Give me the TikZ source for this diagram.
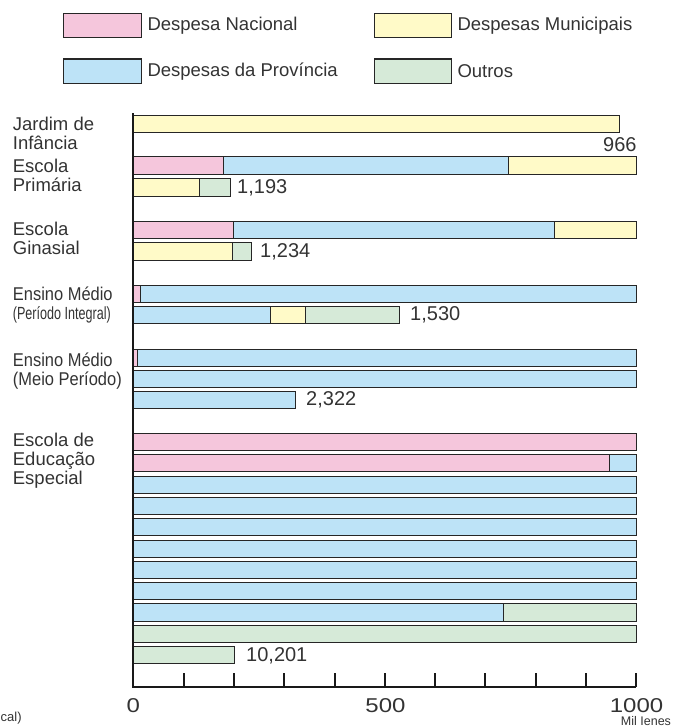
\documentclass[tikz,border=0pt]{standalone}
\usepackage{fontspec}
\setmainfont{Liberation Sans}
\usepackage{graphicx}
\definecolor{nacpink}{RGB}{245,198,220}
\definecolor{provblue}{RGB}{189,227,247}
\definecolor{munyellow}{RGB}{255,250,200}
\definecolor{outgreen}{RGB}{214,234,216}
\definecolor{ink}{RGB}{51,51,51}
\begin{document}
\begin{tikzpicture}[x=1pt,y=-1pt,
  seg/.style={draw=black!85,line width=0.9pt},
  nacseg/.style={seg,fill=nacpink},
  proseg/.style={seg,fill=provblue},
  munseg/.style={seg,fill=munyellow},
  othseg/.style={seg,fill=outgreen},
  key/.style={draw=black!85,line width=1.2pt},
  lab/.style={text=ink,inner sep=0pt,align=left,font=\fontsize{18.5}{19}\selectfont},
  num/.style={text=ink,inner sep=0pt,font=\fontsize{20}{20}\selectfont},
  axis/.style={draw=black!90,line width=2pt}]
\useasboundingbox (0,0) rectangle (679,728);

% legend
\path[key,fill=nacpink] (63.3,13.3) rectangle (141.7,37.5);
\path[key,fill=munyellow] (374.3,13.3) rectangle (451.7,37.5);
\path[key,fill=provblue] (63.3,59) rectangle (141.7,83.3);
\path[key,fill=outgreen] (374.3,59) rectangle (451.7,83.3);
\node[lab,anchor=west] (k1) at (147.3,25.3) {Despesa Nacional};
\node[lab,anchor=west] (k2) at (457.3,25.3) {Despesas Municipais};
\node[lab,anchor=west] (k3) at (147.3,71.3) {Despesas da Província};
\node[lab,anchor=west] (k4) at (457.3,71.3) {Outros};

% school names
\node[lab,anchor=west] (s1) at (12.7,133.4) {Jardim de\\Infância};
\node[lab,anchor=west] (s2) at (12.7,175) {Escola\\Primária};
\node[lab,anchor=west] (s3) at (12.7,238.5) {Escola\\Ginasial};
\node[lab,anchor=west] (s4) at (12.7,293.3) {\scalebox{0.89}[1]{Ensino Médio}};
\node[lab,anchor=west] (s4b) at (12.7,315) {\scalebox{0.68}[0.95]{(Período Integral)}};
\node[lab,anchor=west] (s5) at (12.7,370.7) {\scalebox{0.89}[1]{Ensino Médio}\\\scalebox{0.89}[1]{(Meio Período)}};
\node[lab,anchor=west] (s6) at (12.7,461) {Escola de\\Educação\\Especial};

\begin{scope}[xshift=133.3pt,x=0.503pt]
% Jardim de Infancia
\path[munseg] (0,115) rectangle (966,132.3);
% Escola Primaria
\path[nacseg] (0,156.7) rectangle (179,174);
\path[proseg] (179,156.7) rectangle (745,174);
\path[munseg] (745,156.7) rectangle (1000,174);
\path[munseg] (0,178.3) rectangle (131,196);
\path[othseg] (131,178.3) rectangle (193,196);
% Escola Ginasial
\path[nacseg] (0,221) rectangle (200,238.3);
\path[proseg] (200,221) rectangle (838,238.3);
\path[munseg] (838,221) rectangle (1000,238.3);
\path[munseg] (0,242.7) rectangle (197,260);
\path[othseg] (197,242.7) rectangle (234,260);
% Ensino Medio (integral)
\path[nacseg] (0,285) rectangle (14,302.3);
\path[proseg] (14,285) rectangle (1000,302.3);
\path[proseg] (0,306) rectangle (272,323.3);
\path[munseg] (272,306) rectangle (342,323.3);
\path[othseg] (342,306) rectangle (530,323.3);
% Ensino Medio (meio periodo)
\path[nacseg] (0,349) rectangle (9,366.3);
\path[proseg] (9,349) rectangle (1000,366.3);
\path[proseg] (0,370) rectangle (1000,387.3);
\path[proseg] (0,391) rectangle (322,408.3);
% Educacao Especial
\path[nacseg] (0,433.3) rectangle (1000,450.6);
\path[nacseg] (0,454.6) rectangle (946,471.9);
\path[proseg] (946,454.6) rectangle (1000,471.9);
\foreach \k in {2,...,7}
  \path[proseg] (0,{433.3+\k*21.33}) rectangle (1000,{450.6+\k*21.33});
\path[proseg] (0,603.9) rectangle (736,621.2);
\path[othseg] (736,603.9) rectangle (1000,621.2);
\path[othseg] (0,625.3) rectangle (1000,642.6);
\path[othseg] (0,646.6) rectangle (201,663.9);

% axes
\path[axis] (0,113) -- (0,687.3) -- (1000,687.3);
\foreach \t in {1,...,10}
  \path[axis] ({\t*100},687.3) -- ({\t*100},672.7);
\end{scope}

% totals
\node[num,anchor=east] (v1) at (636.7,144.3) {966};
\node[num,anchor=west] (v2) at (237,188) {1,193};
\node[num,anchor=west] (v3) at (260,251.5) {1,234};
\node[num,anchor=west] (v4) at (410,315) {1,530};
\node[num,anchor=west] (v5) at (306,400) {2,322};
\node[num,anchor=west] (v6) at (246,655.5) {10,201};

% scale
\node[num] (x0) at (133.3,705.5) {\scalebox{1.2}[1]{0}};
\node[num] (x500) at (385.5,705.5) {\scalebox{1.2}[1]{500}};
\node[num] (x1000) at (636.5,705.5) {\scalebox{1.2}[1]{1000}};
\node[num,font=\fontsize{12.5}{12.5}\selectfont,anchor=base] (unit) at (646,725) {Mil Ienes};
\node[num,font=\fontsize{13}{13}\selectfont,anchor=base west] (cut) at (0.5,721.5) {cal)};
\end{tikzpicture}
\end{document}
